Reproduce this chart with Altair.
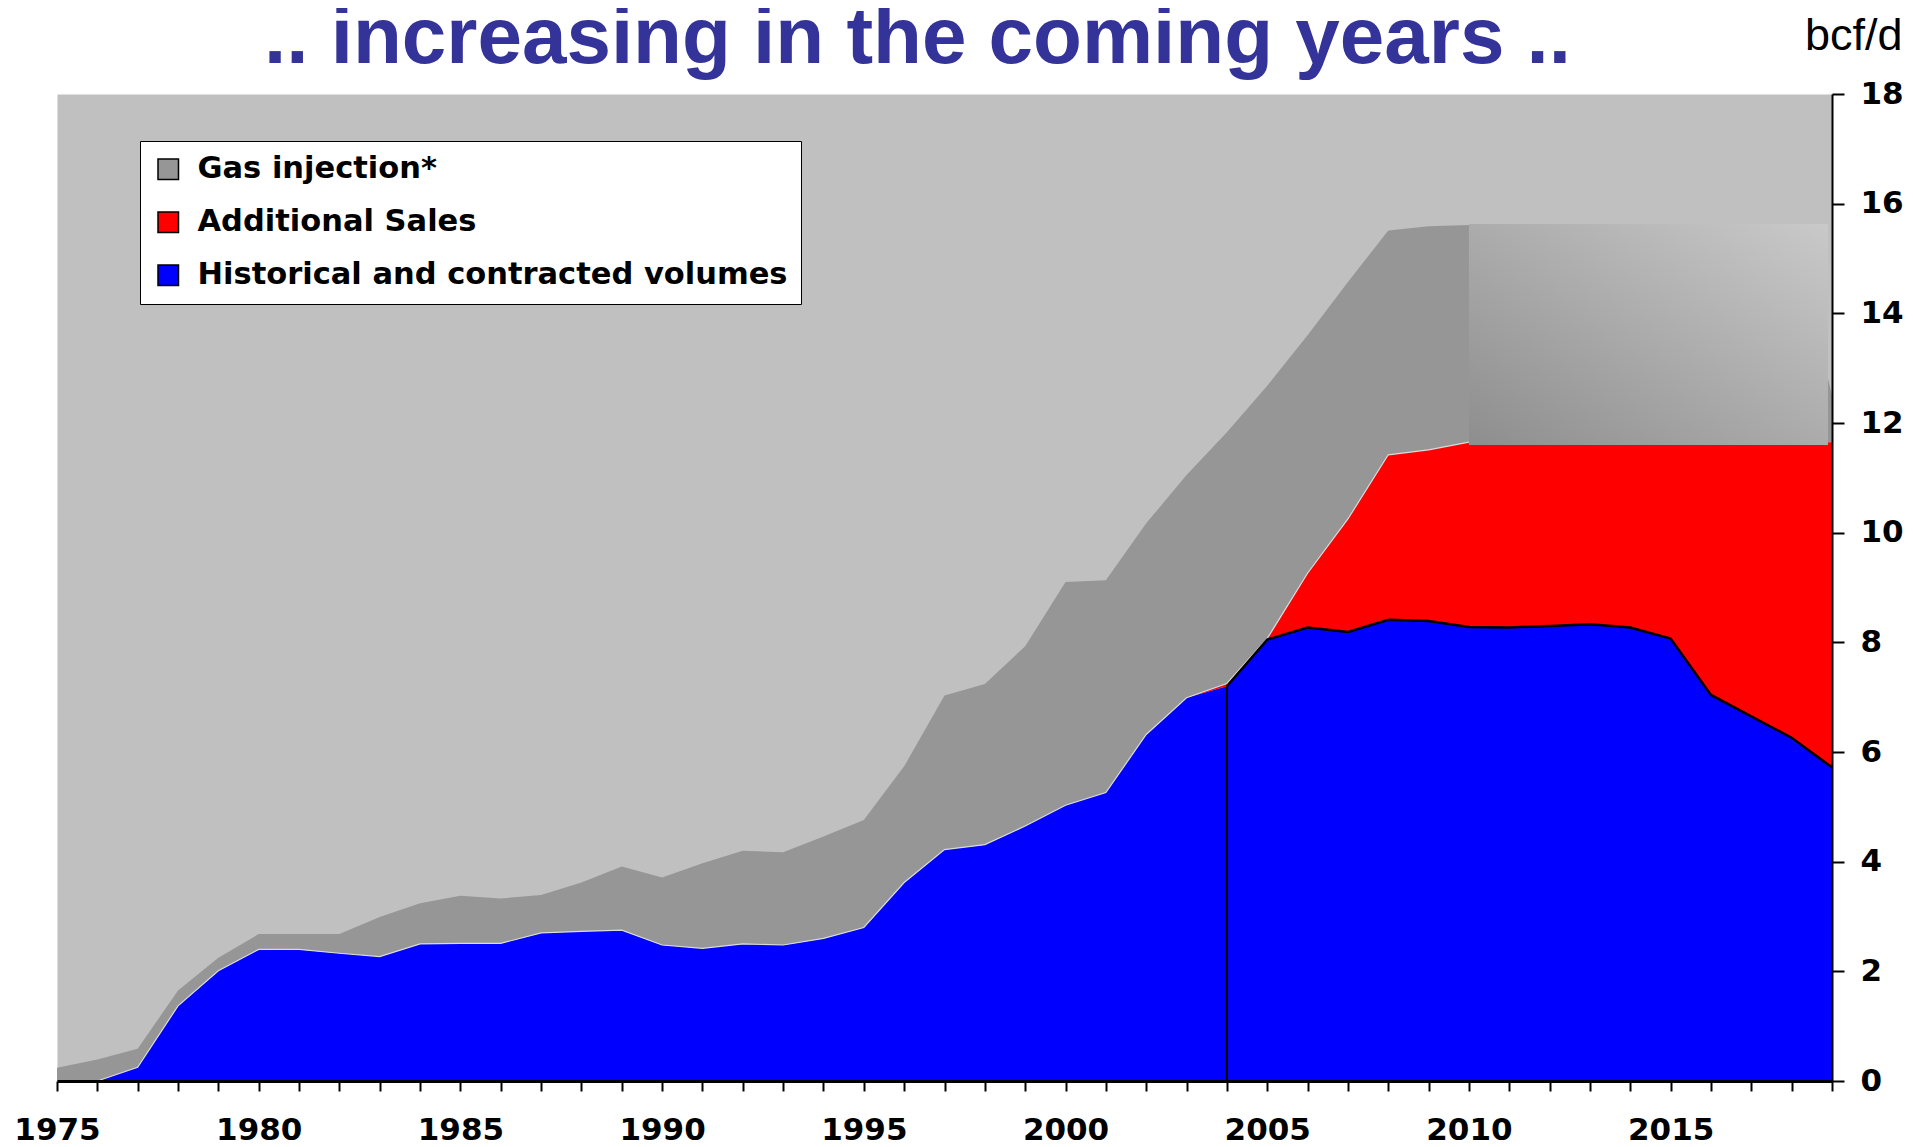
import altair as alt
import pandas as pd

# ---------------- data ----------------
years = list(range(1975, 2020))

historical = [0, 0, 0.25, 1.37, 2.01, 2.40, 2.40, 2.33, 2.27, 2.50,
              2.51, 2.51, 2.70, 2.73, 2.75, 2.48, 2.42, 2.50, 2.48, 2.60,
              2.80, 3.62, 4.22, 4.31, 4.65, 5.03, 5.26, 6.32, 6.99, 7.20,
              8.05, 8.27, 8.19, 8.41, 8.39, 8.28, 8.27, 8.30, 8.33, 8.27,
              8.07, 7.04, 6.65, 6.26, 5.72]

sales_years = list(range(2003, 2020))
sales_top = [6.99, 7.25, 8.07, 9.26, 10.25, 11.42, 11.51, 11.65, 11.65,
             11.65, 11.65, 11.65, 11.65, 11.65, 11.65, 11.65, 11.65]

total = [0.24, 0.39, 0.59, 1.65, 2.25, 2.68, 2.68, 2.68, 2.99, 3.24,
         3.38, 3.33, 3.39, 3.62, 3.91, 3.71, 3.97, 4.20, 4.17, 4.46,
         4.76, 5.74, 7.03, 7.24, 7.93, 9.10, 9.13, 10.17, 11.05, 11.83,
         12.68, 13.60, 14.57, 15.51, 15.59, 15.61, 15.61, 15.61, 15.61, 15.61,
         15.61, 15.61, 15.61, 15.61, 12.5]

forecast_years = [2010, 2018.9]
forecast_range = [11.6, 15.63]

contract_year = 2004

GAS = "Gas injection*"
SALES = "Additional Sales"
HIST = "Historical and contracted volumes"

# ---------------- tables ----------------
hist_map = dict(zip(years, historical))
sales_map = dict(zip(sales_years, sales_top))
gas_bottom = [sales_map.get(y, hist_map[y]) for y in years]

rows = []
for y, h in zip(years, historical):
    rows.append({"year": y, "series": HIST, "top": h, "bottom": 0.0})
for y, s in zip(sales_years, sales_top):
    rows.append({"year": y, "series": SALES, "top": s, "bottom": hist_map[y]})
for y, t, b in zip(years, total, gas_bottom):
    rows.append({"year": y, "series": GAS, "top": t, "bottom": b})
df = pd.DataFrame(rows)

edge_df = pd.DataFrame({"year": years, "v": gas_bottom})
edge_df = edge_df[(edge_df.year >= 1976) & (edge_df.year <= 2010)]

black_df = pd.DataFrame({"year": years, "v": historical})
black_df = black_df[black_df.year >= contract_year]

rect_df = pd.DataFrame({"x0": [forecast_years[0]], "x1": [forecast_years[1]],
                        "y0": [forecast_range[0]], "y1": [forecast_range[1]]})

rule_df = pd.DataFrame({"year": [contract_year], "y0": [0.0],
                        "y1": [hist_map[contract_year]]})

# ---------------- scales & axes ----------------
x_scale = alt.Scale(domain=[1975, 2019], nice=False, zero=False)
y_scale = alt.Scale(domain=[0, 18], nice=False)

x_axis = alt.Axis(values=years,
                  labelExpr="datum.value % 5 == 0 ? toString(datum.value) : ''",
                  tickSize=10, tickWidth=2, tickColor="black",
                  domainColor="black", domainWidth=3,
                  labelFont="DejaVu Sans", labelFontWeight="bold",
                  labelFontSize=31, labelColor="black", labelPadding=24,
                  labelOverlap=False, labelFlush=False, grid=False,
                  title=None, zindex=1)

y_axis = alt.Axis(orient="right", values=list(range(0, 19, 2)),
                  tickSize=12, tickWidth=2, tickColor="black",
                  domainColor="black", domainWidth=2,
                  labelFont="DejaVu Sans", labelFontWeight="bold",
                  labelFontSize=31, labelColor="black", labelPadding=16,
                  grid=False, title="bcf/d", titleAngle=0,
                  titleFont="Liberation Sans", titleFontWeight="normal",
                  titleFontSize=45, titleColor="black", titleAlign="right",
                  titleBaseline="alphabetic", titleX=70, titleY=-45,
                  zindex=1)

color_scale = alt.Scale(domain=[GAS, SALES, HIST],
                        range=["#969696", "#FF0000", "#0000FF"])

legend = alt.Legend(title=None, orient="none", legendX=83, legendY=47,
                    direction="vertical", symbolType="square", symbolSize=420,
                    symbolStrokeColor="black", symbolStrokeWidth=1.5,
                    symbolOpacity=1,
                    labelFont="DejaVu Sans", labelFontWeight="bold",
                    labelFontSize=30.5, labelColor="black", labelLimit=0,
                    labelOffset=14, rowPadding=22, padding=13,
                    fillColor="white", strokeColor="black", cornerRadius=0)

areas = alt.Chart(df).mark_area(opacity=1, interpolate="linear").encode(
    x=alt.X("year:Q", scale=x_scale, axis=x_axis),
    y=alt.Y("top:Q", scale=y_scale, axis=y_axis),
    y2="bottom:Q",
    color=alt.Color("series:N", scale=color_scale, legend=legend),
)

edge = alt.Chart(edge_df).mark_line(color="#DADADA", strokeWidth=1.2).encode(
    x=alt.X("year:Q", scale=x_scale), y=alt.Y("v:Q", scale=y_scale))

black = alt.Chart(black_df).mark_line(color="black", strokeWidth=2.5).encode(
    x=alt.X("year:Q", scale=x_scale), y=alt.Y("v:Q", scale=y_scale))

grad = alt.Gradient(gradient="linear",
                    stops=[alt.GradientStop(color="#8E8E8E", offset=0),
                           alt.GradientStop(color="#C9C9C9", offset=1)],
                    x1=0, y1=1, x2=1, y2=0)
rect = alt.Chart(rect_df).mark_rect(color=grad, opacity=1).encode(
    x=alt.X("x0:Q", scale=x_scale), x2="x1:Q",
    y=alt.Y("y0:Q", scale=y_scale), y2="y1:Q")

rule = alt.Chart(rule_df).mark_rule(color="black", strokeWidth=2).encode(
    x=alt.X("year:Q", scale=x_scale),
    y=alt.Y("y0:Q", scale=y_scale), y2="y1:Q")

chart = alt.layer(areas, edge, black, rect, rule).properties(
    width=1775, height=987,
    padding={"left": 49, "top": 86, "right": 73, "bottom": 64},
    autosize=alt.AutoSizeParams(type="none"),
    title=alt.TitleParams(".. increasing in the coming years ..",
                          font="Liberation Sans", fontWeight="bold",
                          fontSize=80, color="#333399", anchor="start",
                          frame="group", dx=207, offset=-130,
                          baseline="alphabetic"),
).configure_view(fill="#C0C0C0", stroke="transparent")

chart.save("out.html", embed_options={"renderer": "svg", "actions": False})
